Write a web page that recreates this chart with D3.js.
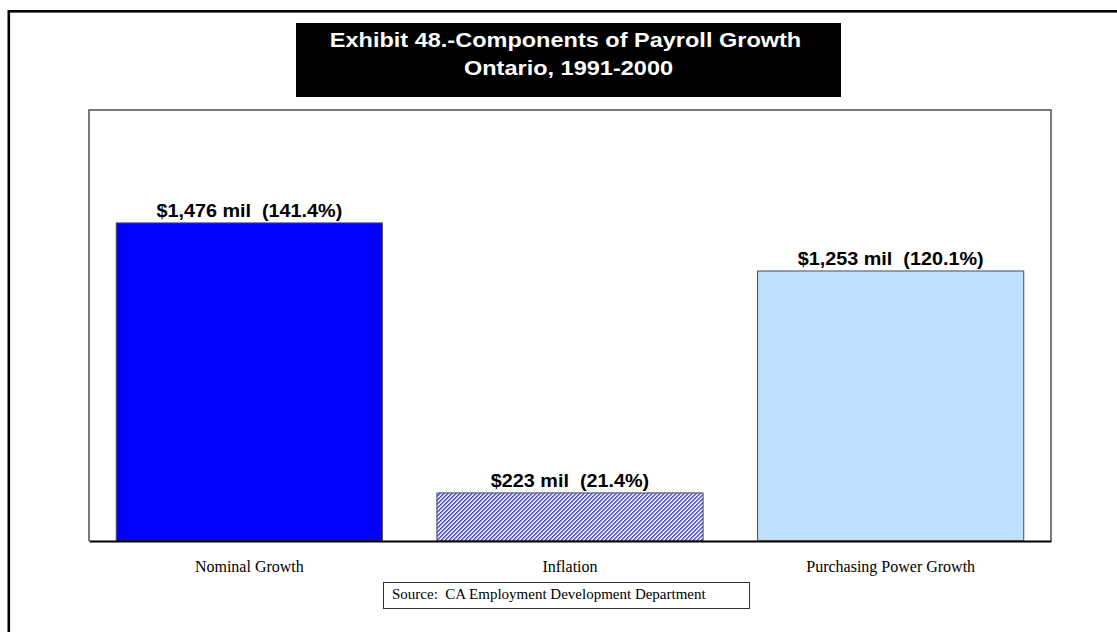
<!DOCTYPE html>
<html>
<head>
<meta charset="utf-8">
<script src="https://cdn.jsdelivr.net/npm/d3@7"></script>
<style>
  html, body { margin: 0; padding: 0; background: #fff; }
  svg { display: block; }
</style>
</head>
<body>
<svg id="chart" width="1117" height="632"></svg>
<script>
// Payroll growth components, Ontario 1991-2000
const categories = ["Nominal Growth", "Inflation", "Purchasing Power Growth"];
const valuesMil = [1476, 223, 1253];
const pctGrowth = [141.4, 21.4, 120.1];
const titleLines = ["Exhibit 48.-Components of Payroll Growth", "Ontario, 1991-2000"];
const sourceText = "Source:  CA Employment Development Department";
const yDomain = [0, 2000];

const svg = d3.select("#chart");

// fine diagonal hatch for the inflation bar
const defs = svg.append("defs");
const pitch = 2.83;
const pat = defs.append("pattern")
  .attr("id", "hatch")
  .attr("patternUnits", "userSpaceOnUse")
  .attr("width", pitch).attr("height", pitch)
  .attr("patternTransform", "rotate(45)");
pat.append("rect").attr("width", pitch).attr("height", pitch).attr("fill", "#ffffff");
pat.append("rect").attr("width", 1.25).attr("height", pitch).attr("fill", "#2424c8");

// outer frame (runs off the right and bottom edges)
svg.append("rect")
  .attr("x", 8.8).attr("y", 11.3)
  .attr("width", 1200).attr("height", 700)
  .attr("fill", "none").attr("stroke", "#000").attr("stroke-width", 2.6);

// title block
const titleBox = { x: 296, y: 23, w: 545, h: 74 };
svg.append("rect")
  .attr("x", titleBox.x).attr("y", titleBox.y)
  .attr("width", titleBox.w).attr("height", titleBox.h)
  .attr("fill", "#000");
const titleBaselines = [47, 75];
titleLines.forEach((t, i) => {
  svg.append("text")
    .attr("transform", `translate(${titleBox.x + titleBox.w / 2 - (i === 0 ? 3 : 0)},${titleBaselines[i]}) scale(1.12,1)`)
    .attr("text-anchor", "middle")
    .attr("font-family", "'Liberation Sans', Arial, sans-serif")
    .attr("font-weight", "bold")
    .attr("font-size", 21)
    .attr("fill", "#fff")
    .text(t);
});

// plot area
const plot = { left: 89, right: 1051, top: 110, bottom: 541 };

const x = d3.scaleBand()
  .domain(categories)
  .range([plot.left, plot.right])
  .paddingInner(0.17)
  .paddingOuter(0.085);

const y = d3.scaleLinear()
  .domain(yDomain)
  .range([plot.bottom, plot.top]);

// plot frame (grey sides and top)
svg.append("path")
  .attr("d", `M${plot.left},${plot.bottom}V${plot.top}H${plot.right}V${plot.bottom}`)
  .attr("fill", "none")
  .attr("stroke", "#7a7a7a")
  .attr("stroke-width", 2);

const fills = ["#0000ff", "url(#hatch)", "#c0e0ff"];

const rows = categories.map((c, i) => ({ cat: c, v: valuesMil[i], p: pctGrowth[i], fill: fills[i] }));

svg.append("g").selectAll("rect")
  .data(rows)
  .join("rect")
  .attr("x", d => x(d.cat))
  .attr("y", d => y(d.v))
  .attr("width", x.bandwidth())
  .attr("height", d => y(0) - y(d.v))
  .attr("fill", d => d.fill)
  .attr("stroke", "#4a4a4a")
  .attr("stroke-width", 1);

// value labels above bars
const fmt = d3.format(",");
svg.append("g").selectAll("text")
  .data(rows)
  .join("text")
  .attr("transform", d => `translate(${x(d.cat) + x.bandwidth() / 2},${y(d.v) - 6}) scale(1.1,1)`)
  .attr("text-anchor", "middle")
  .attr("font-family", "'Liberation Sans', Arial, sans-serif")
  .attr("font-weight", "bold")
  .attr("font-size", 18)
  .attr("fill", "#000")
  .style("white-space", "pre")
  .text(d => `$${fmt(d.v)} mil  (${d.p.toFixed(1)}%)`);

// category axis
const xAxis = svg.append("g")
  .attr("transform", `translate(0,${plot.bottom})`)
  .call(d3.axisBottom(x).tickSize(0).tickSizeOuter(0).tickPadding(20));
xAxis.select(".domain").attr("stroke", "#000").attr("stroke-width", 2);
xAxis.selectAll("text")
  .attr("font-family", "'Liberation Serif', 'Times New Roman', serif")
  .attr("font-size", 16)
  .attr("fill", "#000");

// source note
const srcBox = { x: 383, y: 582, w: 366, h: 26 };
svg.append("rect")
  .attr("x", srcBox.x + 0.5).attr("y", srcBox.y + 0.5)
  .attr("width", srcBox.w).attr("height", srcBox.h)
  .attr("fill", "#fff").attr("stroke", "#333").attr("stroke-width", 1);
svg.append("text")
  .attr("x", srcBox.x + 9).attr("y", 598.5)
  .attr("font-family", "'Liberation Serif', 'Times New Roman', serif")
  .attr("font-size", 15)
  .attr("fill", "#000")
  .style("white-space", "pre")
  .text(sourceText);
</script>
</body>
</html>
